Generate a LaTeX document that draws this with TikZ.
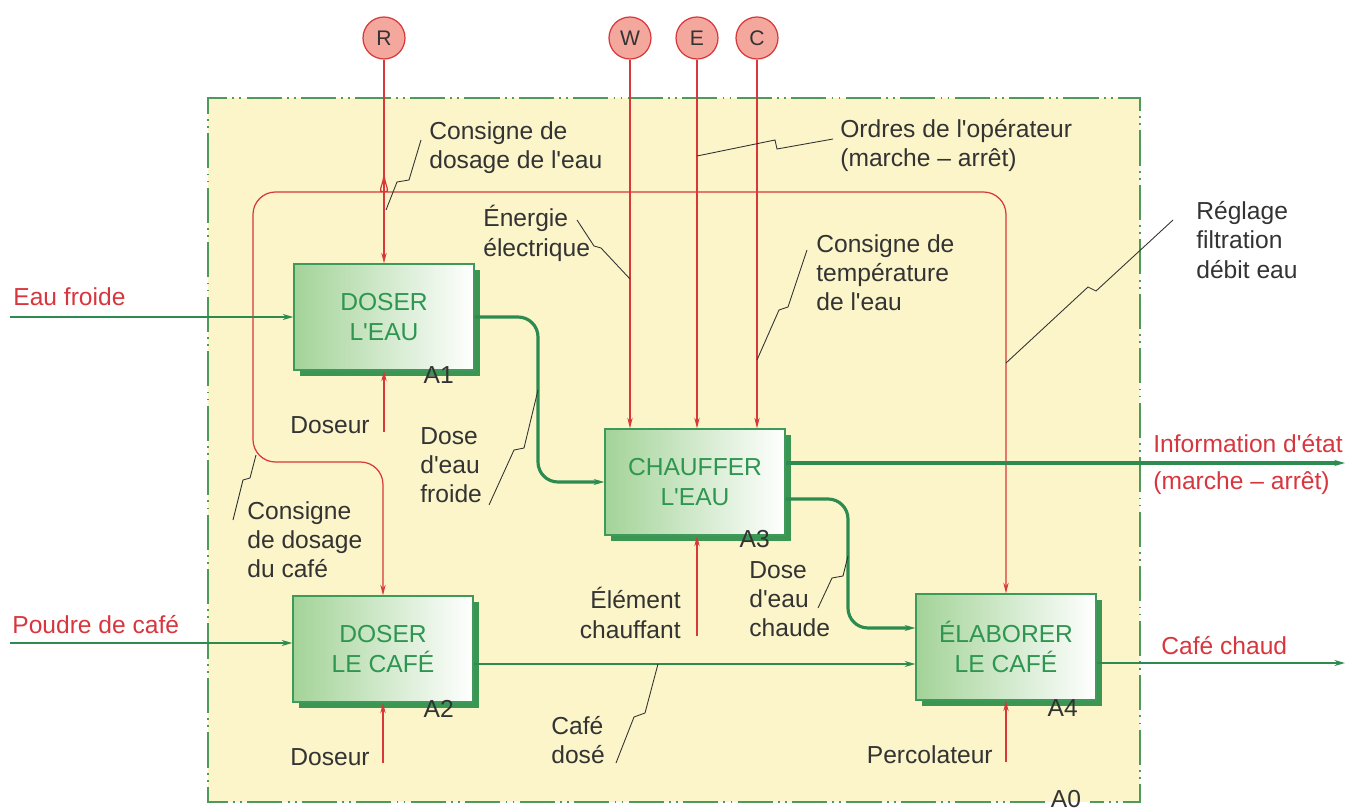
\documentclass[tikz,border=0pt]{standalone}
\usepackage{fontspec}
\setmainfont{Liberation Sans}
\usepackage{tikz}
\usetikzlibrary{arrows.meta,calc,shadows}

\definecolor{paper}{HTML}{FBF5C9}
\definecolor{framegreen}{HTML}{4E9A5C}
\definecolor{boxgreen}{HTML}{3D9A5A}
\definecolor{boxfill}{HTML}{A3D398}
\definecolor{shadowgreen}{HTML}{3A9652}
\definecolor{funcgreen}{HTML}{2E9650}
\definecolor{flowgreen}{HTML}{2E8B50}
\definecolor{linered}{HTML}{D9383A}
\definecolor{pinkfill}{HTML}{F4A79D}
\definecolor{labelred}{HTML}{D8363E}
\definecolor{txtgray}{HTML}{333333}

\newcommand{\q}{\textquotesingle}

\begin{document}
\begin{tikzpicture}[x=0.02cm, y=-0.02cm,
    every node/.style={font=\fontsize{14}{16.7}\selectfont, text=txtgray, inner sep=0pt},
    func/.style={draw=boxgreen, line width=0.8pt, left color=boxfill, right color=white,
      minimum width=3.6cm, minimum height=2.12cm, align=center, text=funcgreen,
      font=\fontsize{14}{17}\selectfont,
      general shadow={fill=shadowgreen, shadow xshift=0.12cm, shadow yshift=-0.12cm}},
    ctrl/.style={circle, draw=linered, line width=0.7pt, fill=pinkfill, minimum size=0.84cm,
      font=\fontsize{12}{14}\selectfont},
    note/.style={align=left, anchor=north west},
    inlabel/.style={text=labelred},
    flow/.style={draw=flowgreen, line width=1.1pt, -{Stealth[length=6pt,width=3.4pt]}},
    bigflow/.style={flow, line width=1.8pt},
    mech/.style={draw=linered, line width=0.7pt, -{Stealth[length=6pt,width=3pt]}},
    leader/.style={draw=black!80, line width=0.5pt}
  ]
  \useasboundingbox (0,0) rectangle (1353,811);

  % A0 frame
  \fill[paper] (208,98) rectangle (1140,802);
  \draw[framegreen, line width=0.6pt,
    dash pattern=on 20pt off 3pt on 1pt off 3pt on 1pt off 3pt]
    (1045,802) -- (208,802) -- (208,98) -- (1140,98) -- (1140,802) -- (1090,802);
  \node (a0) at (1066,799) {A0};

  % activities
  \node[func] (a1) at (384,317) {DOSER\\L\q EAU};
  \node[func] (a2) at (383,649) {DOSER\\LE CAFÉ};
  \node[func] (a3) at (695,482) {CHAUFFER\\L\q EAU};
  \node[func] (a4) at (1006,647) {ÉLABORER\\LE CAFÉ};
  \node (a1n) at ($(a1.south east)+(-36,4)$) {A1};
  \node (a2n) at ($(a2.south east)+(-35,6)$) {A2};
  \node (a3n) at ($(a3.south east)+(-31,3)$) {A3};
  \node (a4n) at ($(a4.south east)+(-34,7)$) {A4};

  % control sources
  \node[ctrl] (r) at (384,38) {R};
  \node[ctrl] (w) at (630,38) {W};
  \node[ctrl] (e) at (697,38) {E};
  \node[ctrl] (c) at (757,38) {C};

  % controls
  \draw[mech] (r) -- (a1);
  \draw[mech] (w) -- (w |- a3.north);
  \draw[mech] (e) -- (e |- a3.north);
  \draw[mech] (c) -- (c |- a3.north);
  \coordinate (rsplit) at (384,172);
  \coordinate (busr) at (1006,192);
  \coordinate (busl) at (253,192);
  \coordinate (loopl) at (253,462);
  \coordinate (loopr) at (383,462);
  \draw[mech, rounded corners=0.45cm] (rsplit) .. controls (384,186) and (392,192) .. (406,192)
    -- (busr) -- (a4.north);
  \draw[mech, rounded corners=0.45cm] (rsplit) .. controls (384,186) and (376,192) .. (362,192)
    -- (busl) -- (loopl) -- (loopr) -- (a2.north);

  % mechanisms
  \coordinate (m1) at (384,432);
  \coordinate (m2) at (383,763);
  \coordinate (m3) at (697,636);
  \coordinate (m4) at (1006,762);
  \draw[mech] (m1) -- (a1);
  \draw[mech] (m2) -- (a2);
  \draw[mech] (m3) -- (m3 |- a3.south);
  \draw[mech] (m4) -- (a4);
  \node[anchor=east] (dos1) at (370,425) {Doseur};
  \node[anchor=east] (dos2) at (370,757) {Doseur};
  \node[anchor=north east, align=right] (elem) at (681,587) {Élément\\chauffant};
  \node[anchor=east] (perc) at (993,755) {Percolateur};

  % flows
  \coordinate (inwater) at (10,317);
  \coordinate (incafe) at (10,643);
  \coordinate (d1) at (538,400);
  \coordinate (d3) at (848,560);
  \coordinate (info) at (1345,463);
  \coordinate (hot) at (1345,663);
  \draw[flow] (inwater) -- (a1);
  \draw[flow] (incafe) -- (incafe -| a2.west);
  \draw[bigflow, rounded corners=0.4cm] (a1.east) -| (d1) |- (a3.west);
  \draw[bigflow] ($(a3.east)+(0,-19)$) -- (info);
  \draw[bigflow, rounded corners=0.4cm] ($(a3.east)+(0,17)$) -| (d3) |- ($(a4.west)+(0,-19)$);
  \draw[flow] ($(a2.east)+(0,15)$) -- ($(a4.west)+(0,17)$);
  \draw[flow] ($(a4.east)+(0,16)$) -- (hot);

  % inputs and outputs
  \node[inlabel, anchor=west] (froide) at (13,297) {Eau froide};
  \node[inlabel, anchor=west] (poudre) at (12,625) {Poudre de café};
  \node[inlabel, note] (etat) at (1153,434) {Information d\q état\\[4.5pt](marche -- arrêt)};
  \node[inlabel, anchor=west] (chaud) at (1161,646) {Café chaud};

  % notes
  \node[note] (cdeau) at (429,121) {Consigne de\\dosage de l\q eau};
  \node[note] (energie) at (483,205) {Énergie\\électrique};
  \node[note] (ordres) at (840,119) {Ordres de l\q opérateur\\(marche -- arrêt)};
  \node[note] (temp) at (816,234) {Consigne de\\température\\de l\q eau};
  \node[note] (reglage) at (1196,201) {Réglage\\filtration\\débit eau};
  \node[note] (dfroide) at (420,427) {Dose\\d\q eau\\froide};
  \node[note] (cdcafe) at (247,501) {Consigne\\de dosage\\du café};
  \node[note] (dchaude) at (749,561) {Dose\\d\q eau\\chaude};
  \node[note] (cdose) at (551,716) {Café\\dosé};

  % leaders
  \coordinate (onr) at (386,210);
  \coordinate (onw) at (630,279);
  \coordinate (one) at (697,156);
  \coordinate (onc) at (757,360);
  \coordinate (onbus) at (1006,363);
  \coordinate (ond1) at (538,390);
  \coordinate (onloop) at (256,455);
  \coordinate (ond3) at (848,556);
  \coordinate (oncafe) at (658,664);
  \draw[leader] (421,140) -- (409,180) -- (397,182) -- (onr);
  \draw[leader] (577,220) -- (594,246) -- (601,248) -- (onw);
  \draw[leader] (833,139) -- (777,149) -- (775,140) -- (one);
  \draw[leader] (807,250) -- (788,307) -- (779,310) -- (onc);
  \draw[leader] (1173,220) -- (1096,291) -- (1088,287) -- (onbus);
  \draw[leader] (489,505) -- (514,450) -- (524,448) -- (ond1);
  \draw[leader] (233,520) -- (243,480) -- (250,478) -- (onloop);
  \draw[leader] (818,608) -- (832,578) -- (843,576) -- (ond3);
  \draw[leader] (616,763) -- (634,717) -- (645,713) -- (oncafe);
\end{tikzpicture}
\end{document}
